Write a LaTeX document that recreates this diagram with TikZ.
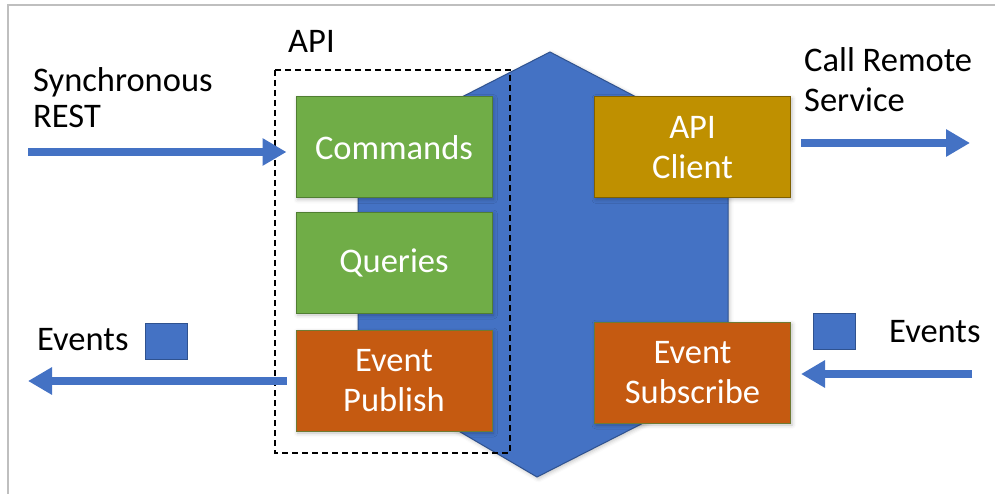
\documentclass[tikz,border=0pt]{standalone}
\usepackage{fontspec}
\setmainfont{Carlito}
\usetikzlibrary{arrows.meta,shadows.blur}

\definecolor{hexblue}{HTML}{4472C4}
\definecolor{hexedge}{HTML}{2F528F}
\definecolor{cmdgreen}{HTML}{70AD47}
\definecolor{cmdedge}{HTML}{507E32}
\definecolor{evorange}{HTML}{C55A11}
\definecolor{evedge}{HTML}{6F7A32}
\definecolor{cligold}{HTML}{BF9000}
\definecolor{cliedge}{HTML}{7F6000}
\definecolor{framegray}{HTML}{BFBFBF}

\begin{document}
\begin{tikzpicture}[x=1pt,y=-1pt,
  txt/.style={font=\fontsize{34.5}{40}\selectfont},
  lbl/.style={txt, inner sep=0pt, anchor=base west, align=left},
  softshadow/.style={blur shadow={shadow blur radius=4pt, shadow xshift=1.5pt,
      shadow yshift=-1.5pt, shadow opacity=25}},
  box/.style={txt, minimum width=196pt, minimum height=101pt, inner sep=0pt,
      align=center, text=white, line width=1pt, softshadow},
  greenbox/.style={box, fill=cmdgreen, draw=cmdedge},
  orangebox/.style={box, fill=evorange, draw=evedge},
  goldbox/.style={box, fill=cligold, draw=cliedge},
  flow/.style={draw=hexblue, line width=8pt, -{Triangle[width=26pt,length=24pt]}},
  evtoken/.style={fill=hexblue, draw=hexedge, line width=0.8pt,
      minimum width=42pt, minimum height=36pt, inner sep=0pt},
  apiframe/.style={draw=black, line width=1.4pt, dash pattern=on 6pt off 4pt},
]
\useasboundingbox (0,0) rectangle (995,494);

% page frame (top and left edges)
\draw[framegray, line width=2.5pt] (8,494) -- (8,5) -- (995,5);

% service hexagon
\filldraw[fill=hexblue, draw=hexedge, line width=1pt, softshadow]
  (550,52) -- (728,145) -- (728,380) -- (537,477) -- (358,372) -- (358,150) -- cycle;

% API side
\node[greenbox]  (cmd) at (394,147.5) {Commands};
\node[greenbox]  (qry) at (394,263)   {Queries};
\node[orangebox] (pub) at (394,381)   {Event\\Publish};

% outbound side
\node[goldbox]   (cli) at (692.5,147.5) {API\\Client};
\node[orangebox] (sub) at (692.5,373)   {Event\\Subscribe};

% API boundary
\draw[apiframe] (275,70) rectangle (510,453);
\node[lbl] (apilbl) at (288,53) {API};

% labels (base anchor sits on the last line)
\node[lbl] (restlbl) at (33,128) {Synchronous\\[-4pt]REST};
\node[lbl] (calllbl) at (804,112) {Call Remote\\Service};
\node[lbl] (evleft)  at (37,350) {Events};
\node[lbl] (evright) at (889,342) {Events};

% event tokens
\node[evtoken] (tokleft)  at (166,341) {};
\node[evtoken] (tokright) at (834,331) {};

% flows
\coordinate (restin)  at (28,152);
\coordinate (pubout)  at (28,381);
\coordinate (callout) at (970,143);
\coordinate (subin)   at (972,374);

\draw[flow, shorten >=9pt]  (restin) -- (restin -| cmd.west);
\draw[flow, shorten <=9pt]  (pubout -| pub.west) -- (pubout);
\draw[flow, shorten <=10pt] (callout -| cli.east) -- (callout);
\draw[flow, shorten >=10pt] (subin) -- (subin -| sub.east);
\end{tikzpicture}
\end{document}
